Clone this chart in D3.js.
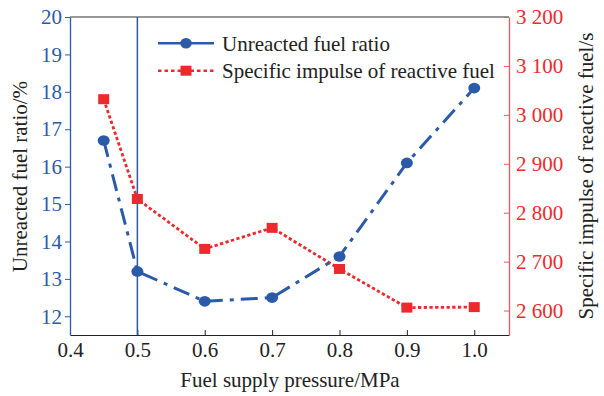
<!DOCTYPE html>
<html>
<head>
<meta charset="utf-8">
<script src="https://cdn.jsdelivr.net/npm/d3@7"></script>
<style>
  body { margin: 0; background: #fff; }
</style>
</head>
<body>
<svg></svg>
<script>
// canvas and plot box
var canvasSize = {width: 604, height: 396}
var margin = {top: 17, right: 95, bottom: 61, left: 70},
    width = canvasSize.width - margin.left - margin.right,
    height = canvasSize.height - margin.top - margin.bottom;
var serif = "Liberation Serif, Tinos, DejaVu Serif, serif"
var fontSize = 21

// data
var pressure = [0.45, 0.5, 0.6, 0.7, 0.8, 0.9, 1.0]
var unreacted = [16.7, 13.2, 12.4, 12.5, 13.6, 16.1, 18.1]
var impulse = [3032, 2828, 2726, 2769, 2685, 2606, 2607]
var xTicks = [0.4, 0.5, 0.6, 0.7, 0.8, 0.9, 1.0]
var leftTicks = [12, 13, 14, 15, 16, 17, 18, 19, 20]
var rightTicks = [2600, 2700, 2800, 2900, 3000, 3100, 3200]

var blue = "#2b5aa8", red = "#ec2a2e", redAxis = "#f2565c"

var svg = d3.select("svg")
    .attr("width", canvasSize.width)
    .attr("height", canvasSize.height)

var x = d3.scaleLinear().domain([0.4, 1.0516]).range([0, width])
var yL = d3.scaleLinear().domain([11.5, 20]).range([height, 0])
var yR = d3.scaleLinear().domain([2550, 3200]).range([height, 0])

var view = svg.append("g")
    .attr("transform", `translate(${margin.left},${margin.top})`)

// top frame line
view.append("line")
    .attr("x1", 0).attr("x2", width).attr("y1", 0).attr("y2", 0)
    .attr("stroke", "#333").attr("stroke-width", 1.2)

// x axis, ticks pointing inward
var xAxis = view.append("g")
    .attr("transform", `translate(0,${height})`)
    .call(d3.axisBottom(x).tickValues(xTicks).tickFormat(d3.format(".1f"))
        .tickSizeInner(-5).tickSizeOuter(0).tickPadding(7.5))
xAxis.select(".domain").attr("stroke", "#222").attr("stroke-width", 1.2)
xAxis.selectAll(".tick line").attr("stroke", "#222")
xAxis.selectAll("text").attr("font-size", fontSize).attr("fill", "#222")

// left axis
var lAxis = view.append("g")
    .call(d3.axisLeft(yL).tickValues(leftTicks).tickSizeInner(5).tickSizeOuter(0).tickPadding(3))
lAxis.select(".domain").attr("stroke", blue).attr("stroke-width", 1.3)
lAxis.selectAll(".tick line").attr("stroke", blue)
lAxis.selectAll("text").attr("font-size", fontSize).attr("fill", blue)

// right axis, ticks inward
var rAxis = view.append("g")
    .attr("transform", `translate(${width},0)`)
    .call(d3.axisRight(yR).tickValues(rightTicks).tickSizeInner(-5).tickSizeOuter(0).tickPadding(7)
        .tickFormat(d => d3.format(",")(d).replace(",", " ")))
rAxis.select(".domain").attr("stroke", redAxis).attr("stroke-width", 1.3)
rAxis.selectAll(".tick line").attr("stroke", redAxis)
rAxis.selectAll("text").attr("font-size", fontSize).attr("fill", red)

// vertical marker line at 0.5 MPa
view.append("line")
    .attr("x1", x(0.5)).attr("x2", x(0.5)).attr("y1", 0).attr("y2", height)
    .attr("stroke", blue).attr("stroke-width", 1.5)

// series lines
var lineL = d3.line().x((d, i) => x(pressure[i])).y(d => yL(d))
var lineR = d3.line().x((d, i) => x(pressure[i])).y(d => yR(d))

view.append("path").datum(impulse)
    .attr("d", lineR).attr("fill", "none")
    .attr("stroke", red).attr("stroke-width", 2.8)
    .attr("stroke-dasharray", "3.3,2.4")

view.append("path").datum(unreacted)
    .attr("d", lineL).attr("fill", "none")
    .attr("stroke", blue).attr("stroke-width", 3)
    .attr("stroke-dasharray", "17,7,4,7")

view.selectAll(".sq").data(impulse).enter().append("rect")
    .attr("class", "sq")
    .attr("x", (d, i) => x(pressure[i]) - 5.5)
    .attr("y", d => yR(d) - 5)
    .attr("width", 11).attr("height", 10)
    .attr("fill", red)

view.selectAll(".dot").data(unreacted).enter().append("ellipse")
    .attr("class", "dot")
    .attr("cx", (d, i) => x(pressure[i]))
    .attr("cy", d => yL(d))
    .attr("rx", 6).attr("ry", 5.3)
    .attr("fill", blue)

// legend
var legend = view.append("g").attr("transform", "translate(88,26.3)")
legend.append("line").attr("x1", 0).attr("x2", 56).attr("y1", 0).attr("y2", 0)
    .attr("stroke", blue).attr("stroke-width", 2.6)
legend.append("ellipse").attr("cx", 28).attr("cy", 0).attr("rx", 5.8).attr("ry", 5.2).attr("fill", blue)
legend.append("text").attr("x", 64).attr("y", 7.5).attr("font-size", fontSize).attr("fill", "#222")
    .text("Unreacted fuel ratio")
legend.append("line").attr("x1", 0).attr("x2", 56).attr("y1", 27.4).attr("y2", 27.4)
    .attr("stroke", red).attr("stroke-width", 2.6).attr("stroke-dasharray", "3.5,3")
legend.append("rect").attr("x", 22.5).attr("y", 22.4).attr("width", 11).attr("height", 10).attr("fill", red)
legend.append("text").attr("x", 64).attr("y", 35).attr("font-size", fontSize).attr("fill", "#222")
    .text("Specific impulse of reactive fuel")

// axis titles
svg.append("text")
    .attr("x", 290).attr("y", 387)
    .attr("text-anchor", "middle").attr("font-size", fontSize).attr("fill", "#222")
    .text("Fuel supply pressure/MPa")

svg.append("text")
    .attr("transform", "translate(27,176.5) rotate(-90)")
    .attr("text-anchor", "middle").attr("font-size", fontSize).attr("fill", "#222")
    .text("Unreacted fuel ratio/%")

svg.append("text")
    .attr("transform", "translate(593,176) rotate(-90)")
    .attr("text-anchor", "middle").attr("font-size", fontSize).attr("fill", "#222")
    .text("Specific impulse of reactive fuel/s")

// force the serif face on every label, axes included
svg.selectAll("text").style("font-family", serif)
svg.selectAll("g").attr("font-family", serif)
</script>
</body>
</html>
